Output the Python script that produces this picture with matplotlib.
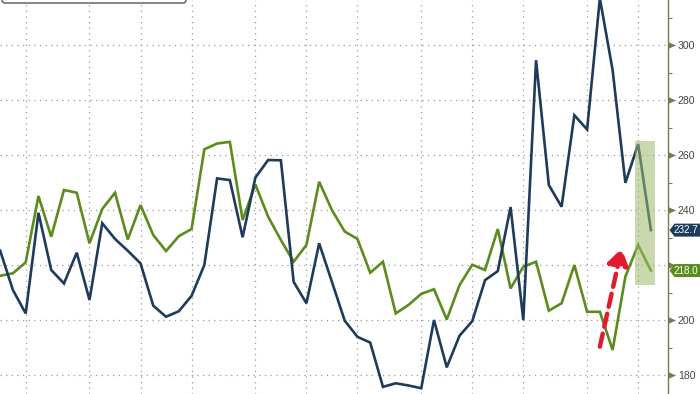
import matplotlib
matplotlib.use("Agg")
import matplotlib.pyplot as plt
from matplotlib.patches import Rectangle, Polygon, FancyBboxPatch
from matplotlib.transforms import blended_transform_factory, IdentityTransform
import numpy as np

plt.rcParams["font.family"] = ["Liberation Sans", "DejaVu Sans"]

# weekly index (k), month-boundary grid positions
weeks = list(range(-2, 50))
month_starts = [0, 5, 9, 13, 18, 22, 26, 31, 35, 39, 44, 48]

navy_vals = [225.2, 210.9, 202.4, 239.0, 218.2, 213.3, 224.5, 207.3, 235.2, 229.5,
             225.2, 220.6, 205.2, 201.2, 203.2, 208.8, 220.0, 251.5, 250.9, 230.1,
             251.8, 258.2, 258.1, 213.9, 206.1, 227.9, 213.9, 199.8, 193.9, 191.8,
             175.7, 177.0, 176.2, 175.2, 200.0, 182.8, 194.3, 199.6, 214.5, 217.8,
             241.1, 200.0, 294.5, 249.1, 241.2, 274.5, 269.3, 317.0, 290.9, 249.9,
             264.0, 232.7]

green_vals = [216.1, 217.0, 221.0, 245.1, 230.3, 247.3, 246.3, 227.9, 240.4, 246.3,
              229.3, 241.8, 230.9, 225.1, 230.5, 233.1, 262.1, 264.2, 264.8, 236.4,
              249.3, 237.6, 229.1, 221.2, 227.3, 250.3, 240.0, 232.2, 229.5, 217.2,
              221.2, 202.4, 205.5, 209.5, 211.2, 200.2, 212.7, 220.1, 218.2, 233.1,
              211.5, 219.4, 221.2, 203.4, 206.1, 220.0, 203.0, 203.0, 189.1, 215.8,
              227.3, 218.0]

y_ticks = [180, 200, 220, 240, 260, 280, 300]
y_tick_labels = ["180", "200", "", "240", "260", "280", "300"]  # 220 hidden behind tag
last_labels = ["232.7", "218.0"]

NAVY = "#1f3b5c"
GREEN = "#5b8c1c"
RED = "#e3192c"
AXC = "#7a7a50"

fig = plt.figure(figsize=(7.0, 3.94), dpi=100)
ax = fig.add_axes([0, 0, 668 / 700, 1])
ax.set_xlim(-2.014, 50.34)
ax.set_ylim(173.1, 316.4)

# grid
for m in month_starts:
    ax.axvline(m, color="#9a9a9a", lw=0.9, ls=(0, (1, 3.5)), zorder=1)
for t in y_ticks:
    ax.axhline(t, color="#9a9a9a", lw=0.9, ls=(0, (1, 3.5)), zorder=1)

ax.plot(weeks, green_vals, color=GREEN, lw=1.9, zorder=3, solid_joinstyle="miter")
ax.plot(weeks, navy_vals, color=NAVY, lw=1.9, zorder=3, solid_joinstyle="miter")

# highlight box over last weeks
ax.add_patch(Rectangle((47.75, 212.7), 1.57, 52.5, facecolor="#9dbb6a", alpha=0.55,
                       edgecolor="none", zorder=4))

# red dashed arrow
ax.annotate("", xy=(46.71, 226.1), xytext=(45.0, 190.3),
            arrowprops=dict(arrowstyle="-|>,head_length=0.7,head_width=0.45",
                            linestyle=(0, (3, 1.6)), lw=3.2, color=RED,
                            shrinkA=0, shrinkB=0, mutation_scale=14),
            zorder=5)

# axes styling
for s in ["top", "left", "bottom"]:
    ax.spines[s].set_visible(False)
ax.spines["right"].set_color(AXC)
ax.spines["right"].set_linewidth(1.0)
ax.set_xticks([])
ax.yaxis.tick_right()
ax.set_yticks(y_ticks)
ax.set_yticks(list(range(180, 320, 10)), minor=True)
ax.tick_params(axis="y", which="major", direction="out", length=5, width=1,
               color=AXC, labelcolor="#444444", labelsize=7.6, pad=2)
ax.tick_params(axis="y", which="minor", direction="out", length=3, width=0.8, color=AXC)
ax.set_yticklabels(y_tick_labels)

# triangle tick markers
bt = blended_transform_factory(ax.transAxes, ax.transData)
ax.plot([1.004] * len(y_ticks), y_ticks, marker=">", ls="none", ms=3.5, color=AXC,
        transform=bt, clip_on=False, zorder=6)

# last value tags
def tag(val, text, color):
    yd = ax.transData.transform((0, val))[1]
    x0 = ax.transAxes.transform((1, 0))[0] + 1.5
    h = 6.5
    poly = Polygon([[x0, yd], [x0 + 5, yd + h], [700, yd + h], [700, yd - h], [x0 + 5, yd - h]],
                   closed=True, facecolor=color, edgecolor="none",
                   transform=IdentityTransform(), zorder=10, clip_on=False)
    fig.patches.append(poly)
    fig.text((x0 + 4) / 700, yd / 394, text, color="white", fontsize=7.1,
             va="center", ha="left", zorder=11)

tag(navy_vals[-1], last_labels[0], NAVY)
tag(green_vals[-1], last_labels[1], GREEN)

# clipped legend frame at top-left
fig.patches.append(FancyBboxPatch((2, 391), 184, 20, boxstyle="round,pad=0,rounding_size=3",
                                  facecolor="white", edgecolor="#555555", lw=1.0,
                                  transform=IdentityTransform(), zorder=12))

fig.savefig("out.png", dpi=100)
